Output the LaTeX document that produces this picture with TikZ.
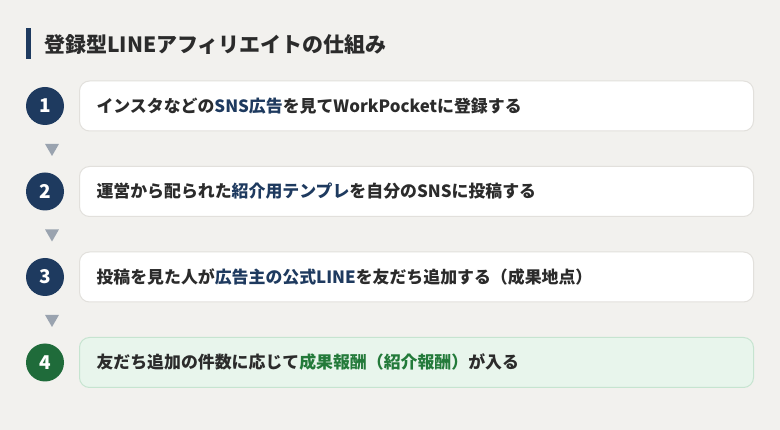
\documentclass[tikz,border=0pt]{standalone}
\usepackage{fontspec}
\setmainfont{Noto Sans CJK JP}
\usetikzlibrary{positioning}
\usetikzlibrary{shapes.geometric}

\definecolor{bgcol}{HTML}{F2F1EE}
\definecolor{navy}{HTML}{1E3A5F}
\definecolor{darkgreen}{HTML}{1F6B3A}
\definecolor{greentext}{HTML}{237A3A}
\definecolor{greenfill}{HTML}{E8F5EC}
\definecolor{greenline}{HTML}{C6E4D0}
\definecolor{boxline}{HTML}{E2E0DC}
\definecolor{trigray}{HTML}{9AA3AF}
\definecolor{maintext}{HTML}{2B2B2B}

\newcommand{\hlnavy}[1]{\textcolor{navy}{#1}}
\newcommand{\hlgreen}[1]{\textcolor{greentext}{#1}}

\tikzset{
  stepbox/.style={draw=boxline, fill=white, line width=1pt, rounded corners=10pt,
    text width=640pt, inner xsep=17pt, minimum height=50pt, align=left,
    anchor=west, text=maintext, font=\fontsize{16.9}{19}\selectfont\bfseries},
  lastbox/.style={stepbox, draw=greenline, fill=greenfill},
  numcirc/.style={circle, fill=navy, minimum size=38pt, inner sep=0pt,
    text=white, font=\fontsize{19}{20}\selectfont\bfseries},
  downtri/.style={regular polygon, regular polygon sides=3, shape border rotate=180,
    fill=trigray, minimum size=16pt, inner sep=0pt}
}

\begin{document}
\begin{tikzpicture}[x=1pt, y=-1pt]

 \fill[bgcol] (0,0) rectangle (780,430); % Fondo
 \useasboundingbox (0,0) rectangle (780,430);

 % Titulo
 \fill[navy] (26,28) rectangle (30.5,59);
 \node[anchor=west, inner sep=0pt, text=maintext, font=\fontsize{21}{23}\selectfont\bfseries] (title) at (44,45) {登録型LINEアフィリエイトの仕組み};

 % Pasos
 \node[stepbox] (box1) at (79,106) {インスタなどの\hlnavy{SNS広告}を見てWorkPocketに登録する};
 \node[stepbox] (box2) at (79,191.5) {運営から配られた\hlnavy{紹介用テンプレ}を自分のSNSに投稿する};
 \node[stepbox] (box3) at (79,277) {投稿を見た人が\hlnavy{広告主の公式LINE}を友だち追加する（成果地点）};
 \node[lastbox] (box4) at (79,362.5) {友だち追加の件数に応じて\hlgreen{成果報酬（紹介報酬）}が入る};

 % Numeros
 \node[numcirc] (num1) at (45,106) {1};
 \node[numcirc] (num2) at (45,191.5) {2};
 \node[numcirc] (num3) at (45,277) {3};
 \node[numcirc, fill=darkgreen] (num4) at (45,362.5) {4};

 % Flechas entre pasos
 \node[downtri] (tri1) at (52,148) {};
 \node[downtri] (tri2) at (52,233.5) {};
 \node[downtri] (tri3) at (52,319) {};

\end{tikzpicture}
\end{document}
